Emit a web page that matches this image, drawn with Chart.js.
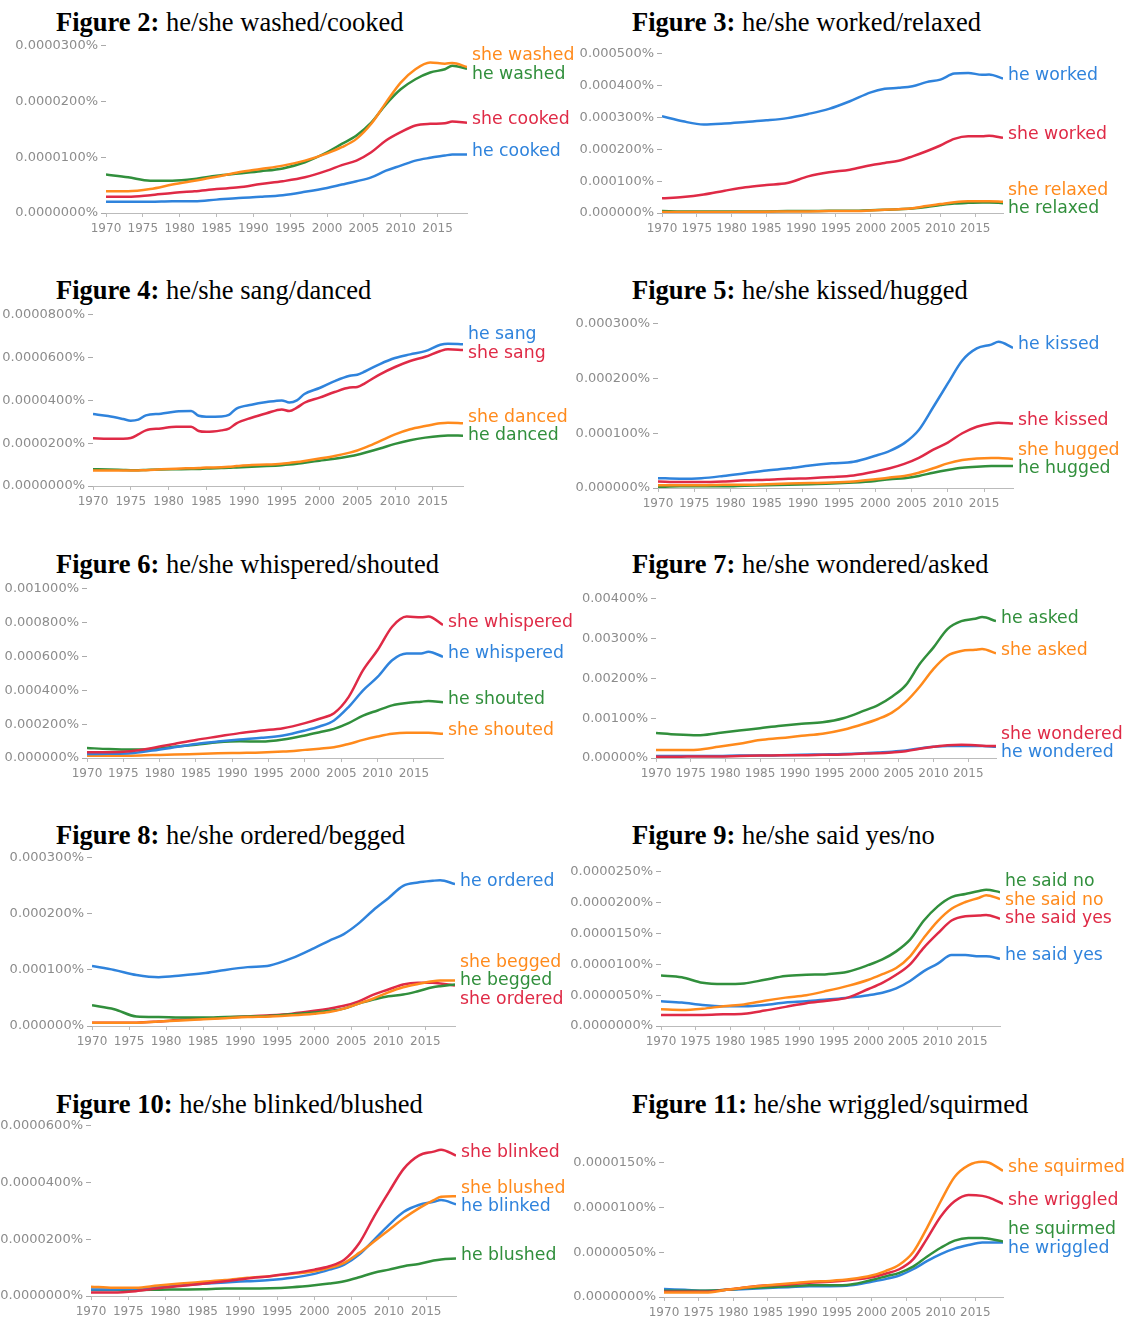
<!DOCTYPE html>
<html>
<head>
<meta charset="utf-8">
<title>he/she verb frequencies, 1970-2019</title>
<script src="https://cdn.jsdelivr.net/npm/chart.js@4.4.1/dist/chart.umd.min.js"></script>
<style>
  html, body { margin: 0; padding: 0; background: #fff; }
  body { width: 1126px; height: 1318px; position: relative; overflow: hidden; }
  .title {
    position: absolute;
    font-family: "Liberation Serif", "Times New Roman", serif;
    font-size: 26.5px;
    line-height: 30px;
    color: #000;
    white-space: nowrap;
  }
  canvas { position: absolute; }
</style>
</head>
<body>
<script>
// ------------------------------------------------------------
// Data. Values are stored in units of
// 10^-decimals percent (decimals is given per panel below).
// ------------------------------------------------------------
const YEARS = [1970, 1973, 1976, 1979, 1982, 1985, 1988, 1991, 1994, 1997,
               2000, 2002, 2004, 2006, 2008, 2010, 2012, 2014, 2016, 2017, 2019];
// fig 4 has a few bumps, so it gets a denser sample
const YEARS_FIG4 = [1970, 1972, 1974, 1975, 1976, 1977, 1979, 1981, 1983, 1984,
                    1985, 1987, 1988, 1989, 1991, 1993, 1995, 1996, 1997, 1998,
                    2000, 2002, 2004, 2005, 2006, 2008, 2010, 2012, 2014, 2016, 2017, 2019];
const X_TICKS = [1970, 1975, 1980, 1985, 1990, 1995, 2000, 2005, 2010, 2015];

// Figure 2 — 1e-7 %
const FIG2_NAMES = ['she washed', 'he washed', 'she cooked', 'he cooked'];
const FIG2_YTICKS = [0, 100, 200, 300];
const FIG2_VALUES = [
  [39, 39, 43, 51, 58, 65, 73, 79, 85, 94, 107, 118, 133, 160, 198, 234, 258, 270, 268, 269, 262],
  [69, 64, 58, 58, 61, 67, 71, 75, 80, 91, 109, 124, 139, 162, 195, 222, 240, 252, 258, 264, 259],
  [29, 29, 32, 36, 39, 43, 46, 52, 57, 64, 76, 86, 94, 109, 130, 145, 157, 160, 161, 164, 162],
  [20, 20, 20, 21, 21, 24, 27, 29, 32, 38, 45, 51, 57, 64, 76, 85, 94, 99, 103, 105, 105],
];

// Figure 3 — 1e-6 %
const FIG3_NAMES = ['he worked', 'she worked', 'she relaxed', 'he relaxed'];
const FIG3_YTICKS = [0, 100, 200, 300, 400, 500];
const FIG3_VALUES = [
  [304, 288, 278, 281, 286, 291, 298, 311, 327, 351, 379, 390, 393, 398, 411, 419, 438, 440, 434, 435, 422],
  [46, 50, 58, 70, 81, 88, 94, 115, 128, 136, 150, 157, 164, 178, 194, 212, 233, 241, 241, 243, 236],
  [3, 3, 3, 3, 4, 4, 5, 5, 6, 6, 8, 10, 12, 15, 22, 28, 34, 37, 37, 37, 35],
  [6, 5, 5, 5, 5, 5, 6, 6, 7, 7, 9, 10, 12, 14, 19, 25, 30, 32, 33, 33, 31],
];

// Figure 4 — 1e-7 % (on YEARS_FIG4)
const FIG4_NAMES = ['he sang', 'she sang', 'she danced', 'he danced'];
const FIG4_YTICKS = [0, 200, 400, 600, 800];
const FIG4_VALUES = [
  [336, 327, 313, 305, 310, 330, 338, 348, 350, 328, 324, 325, 332, 362, 380, 392, 400, 390, 400, 430,
   458, 490, 515, 520, 535, 570, 598, 615, 630, 660, 665, 662],
  [223, 221, 221, 224, 241, 260, 269, 277, 277, 257, 253, 260, 268, 293, 319, 340, 358, 350, 366, 389,
   413, 439, 460, 463, 480, 522, 556, 584, 604, 631, 639, 636],
  [73, 73, 72, 72, 73, 74, 78, 81, 83, 84, 86, 88, 90, 93, 98, 100, 104, 108, 112, 117,
   128, 140, 156, 166, 179, 210, 241, 265, 280, 293, 296, 293],
  [78, 77, 75, 74, 74, 75, 77, 78, 79, 80, 82, 84, 85, 87, 90, 93, 97, 100, 104, 109,
   118, 127, 139, 146, 155, 175, 197, 214, 226, 234, 236, 235],
];

// Figure 5 — 1e-6 %
const FIG5_NAMES = ['he kissed', 'she kissed', 'she hugged', 'he hugged'];
const FIG5_YTICKS = [0, 100, 200, 300];
const FIG5_VALUES = [
  [18, 17, 18, 22, 27, 32, 36, 41, 45, 48, 59, 68, 82, 106, 148, 191, 233, 255, 262, 267, 256],
  [12, 11, 11, 12, 14, 15, 17, 18, 20, 23, 30, 36, 44, 55, 70, 83, 100, 112, 118, 119, 118],
  [5, 5, 5, 6, 6, 7, 8, 9, 10, 12, 16, 19, 22, 28, 36, 45, 51, 54, 55, 55, 53],
  [2, 3, 3, 3, 4, 5, 6, 7, 8, 10, 13, 16, 18, 22, 28, 33, 37, 39, 40, 40, 40],
];

// Figure 6 — 1e-6 %
const FIG6_NAMES = ['she whispered', 'he whispered', 'he shouted', 'she shouted'];
const FIG6_YTICKS = [0, 200, 400, 600, 800, 1000];
const FIG6_VALUES = [
  [34, 34, 40, 59, 83, 107, 127, 147, 162, 176, 206, 232, 265, 360, 519, 638, 776, 836, 832, 836, 786],
  [24, 25, 28, 44, 63, 83, 97, 109, 119, 133, 162, 186, 222, 301, 400, 479, 578, 618, 618, 628, 598],
  [59, 53, 50, 53, 67, 79, 93, 99, 97, 109, 133, 152, 172, 206, 251, 281, 311, 325, 333, 337, 329],
  [14, 14, 14, 17, 20, 24, 28, 30, 32, 38, 48, 55, 63, 83, 107, 127, 143, 149, 149, 149, 143],
];

// Figure 7 — 1e-5 %
const FIG7_NAMES = ['he asked', 'she asked', 'she wondered', 'he wondered'];
const FIG7_YTICKS = [0, 100, 200, 300, 400];
const FIG7_VALUES = [
  [63, 59, 57, 63, 69, 75, 81, 86, 90, 100, 119, 133, 154, 183, 236, 278, 324, 344, 350, 354, 344],
  [20, 20, 21, 28, 36, 45, 50, 56, 61, 71, 86, 98, 114, 141, 179, 224, 257, 269, 272, 274, 263],
  [3, 3, 4, 4, 5, 6, 7, 7, 8, 9, 11, 12, 14, 17, 23, 28, 32, 33, 32, 31, 30],
  [5, 5, 5, 5, 6, 6, 7, 8, 9, 10, 12, 14, 16, 19, 24, 28, 30, 30, 30, 30, 28],
];

// Figure 8 — 1e-6 %
const FIG8_NAMES = ['he ordered', 'she begged', 'he begged', 'she ordered'];
const FIG8_YTICKS = [0, 100, 200, 300];
const FIG8_VALUES = [
  [107, 100, 91, 87, 90, 94, 100, 105, 108, 121, 139, 152, 164, 183, 207, 228, 250, 256, 259, 260, 253],
  [6, 6, 6, 8, 10, 12, 14, 16, 17, 19, 22, 25, 31, 40, 49, 60, 69, 75, 80, 81, 81],
  [37, 30, 17, 16, 15, 15, 16, 17, 18, 21, 24, 27, 31, 40, 47, 53, 56, 62, 69, 71, 74],
  [6, 6, 6, 8, 11, 13, 15, 17, 19, 22, 27, 31, 36, 44, 56, 65, 74, 77, 77, 76, 72],
];

// Figure 9 — 1e-7 %
const FIG9_NAMES = ['he said no', 'she said no', 'she said yes', 'he said yes'];
const FIG9_YTICKS = [0, 50, 100, 150, 200, 250];
const FIG9_VALUES = [
  [82, 79, 70, 68, 69, 75, 81, 83, 84, 88, 99, 108, 121, 140, 171, 194, 209, 214, 219, 221, 217],
  [27, 26, 28, 32, 35, 41, 46, 50, 57, 65, 75, 84, 94, 113, 143, 170, 190, 201, 208, 212, 206],
  [18, 18, 18, 19, 20, 25, 31, 37, 41, 46, 60, 70, 83, 100, 127, 150, 171, 178, 179, 180, 174],
  [40, 38, 34, 32, 32, 34, 38, 40, 43, 46, 50, 54, 61, 73, 89, 101, 115, 115, 113, 113, 109],
];

// Figure 10 — 1e-7 %
const FIG10_NAMES = ['she blinked', 'she blushed', 'he blinked', 'he blushed'];
const FIG10_YTICKS = [0, 200, 400, 600];
const FIG10_VALUES = [
  [12, 12, 17, 27, 35, 43, 52, 62, 70, 80, 93, 105, 128, 186, 280, 367, 449, 495, 509, 516, 495],
  [33, 29, 29, 37, 44, 50, 56, 64, 70, 78, 87, 99, 117, 152, 192, 233, 274, 309, 338, 350, 352],
  [23, 23, 26, 31, 37, 43, 48, 52, 56, 64, 78, 93, 111, 146, 198, 251, 297, 321, 332, 338, 323],
  [21, 21, 21, 22, 23, 24, 26, 26, 27, 31, 38, 44, 52, 66, 82, 93, 105, 113, 125, 129, 132],
];

// Figure 11 — 1e-7 %
const FIG11_NAMES = ['she squirmed', 'she wriggled', 'he squirmed', 'he wriggled'];
const FIG11_YTICKS = [0, 50, 100, 150];
const FIG11_VALUES = [
  [5, 5, 5, 8, 11, 13, 15, 17, 18, 20, 24, 29, 36, 50, 77, 107, 134, 147, 151, 150, 141],
  [6, 6, 6, 8, 11, 13, 14, 16, 17, 19, 22, 26, 31, 42, 65, 90, 107, 114, 113, 111, 104],
  [7, 7, 7, 8, 10, 11, 12, 13, 13, 14, 19, 23, 27, 34, 45, 55, 63, 66, 66, 65, 62],
  [9, 8, 7, 8, 9, 10, 11, 12, 12, 13, 17, 20, 24, 31, 40, 48, 54, 58, 61, 61, 61],
];

// ------------------------------------------------------------
// Styling / layout
// ------------------------------------------------------------
const COLORS = {
  blue:   '#2f83dc',
  red:    '#df2a46',
  orange: '#ff8a1c',
  green:  '#318f3c',
};

const X_TICK_FONT = { family: 'DejaVu Sans', size: 12 };
const Y_TICK_FONT = { family: 'DejaVu Sans', size: 13 };
const TICK_COLOR  = '#8c8c8c';
const LABEL_FONT  = '17.3px "DejaVu Sans"';
const LABEL_GAP   = 18.5;   // min vertical spacing between end labels

const AXIS_W = 110, AXIS_H = 26, PAD_TOP = 10, PAD_RIGHT = 140;

// area = pixel box of the plot (1970..2019 horizontally, 0..yMax vertically)
const PANELS = [
  { fig: 2,  title: 'he/she washed/cooked',      names: FIG2_NAMES,  values: FIG2_VALUES,  years: YEARS,
    colors: ['orange', 'green', 'red', 'blue'],  yTicks: FIG2_YTICKS,  decimals: 7, yMax: 300,
    area: { left: 106, right: 467,  top: 45,   bottom: 213 },  titleAt: [56, 22] },
  { fig: 3,  title: 'he/she worked/relaxed',     names: FIG3_NAMES,  values: FIG3_VALUES,  years: YEARS,
    colors: ['blue', 'red', 'orange', 'green'],  yTicks: FIG3_YTICKS,  decimals: 6, yMax: 500,
    area: { left: 662, right: 1003, top: 53,   bottom: 213 },  titleAt: [632, 22] },
  { fig: 4,  title: 'he/she sang/danced',        names: FIG4_NAMES,  values: FIG4_VALUES,  years: YEARS_FIG4,
    colors: ['blue', 'red', 'orange', 'green'],  yTicks: FIG4_YTICKS,  decimals: 7, yMax: 800,
    area: { left: 93,  right: 463,  top: 314,  bottom: 486 },  titleAt: [56, 290] },
  { fig: 5,  title: 'he/she kissed/hugged',      names: FIG5_NAMES,  values: FIG5_VALUES,  years: YEARS,
    colors: ['blue', 'red', 'orange', 'green'],  yTicks: FIG5_YTICKS,  decimals: 6, yMax: 300,
    area: { left: 658, right: 1013, top: 323,  bottom: 488 },  titleAt: [632, 290] },
  { fig: 6,  title: 'he/she whispered/shouted',  names: FIG6_NAMES,  values: FIG6_VALUES,  years: YEARS,
    colors: ['red', 'blue', 'green', 'orange'],  yTicks: FIG6_YTICKS,  decimals: 6, yMax: 1000,
    area: { left: 87,  right: 443,  top: 588,  bottom: 758 },  titleAt: [56, 564] },
  { fig: 7,  title: 'he/she wondered/asked',     names: FIG7_NAMES,  values: FIG7_VALUES,  years: YEARS,
    colors: ['green', 'orange', 'red', 'blue'],  yTicks: FIG7_YTICKS,  decimals: 5, yMax: 400,
    area: { left: 656, right: 996,  top: 598,  bottom: 758 },  titleAt: [632, 564] },
  { fig: 8,  title: 'he/she ordered/begged',     names: FIG8_NAMES,  values: FIG8_VALUES,  years: YEARS,
    colors: ['blue', 'orange', 'green', 'red'],  yTicks: FIG8_YTICKS,  decimals: 6, yMax: 300,
    area: { left: 92,  right: 455,  top: 857,  bottom: 1026 }, titleAt: [56, 835] },
  { fig: 9,  title: 'he/she said yes/no',        names: FIG9_NAMES,  values: FIG9_VALUES,  years: YEARS,
    colors: ['green', 'orange', 'red', 'blue'],  yTicks: FIG9_YTICKS,  decimals: 7, yMax: 250,
    area: { left: 661, right: 1000, top: 871,  bottom: 1026 }, titleAt: [632, 835] },
  { fig: 10, title: 'he/she blinked/blushed',    names: FIG10_NAMES, values: FIG10_VALUES, years: YEARS,
    colors: ['red', 'orange', 'blue', 'green'],  yTicks: FIG10_YTICKS, decimals: 7, yMax: 600,
    area: { left: 91,  right: 456,  top: 1125, bottom: 1296 }, titleAt: [56, 1104] },
  { fig: 11, title: 'he/she wriggled/squirmed',  names: FIG11_NAMES, values: FIG11_VALUES, years: YEARS,
    colors: ['orange', 'red', 'green', 'blue'],  yTicks: FIG11_YTICKS, decimals: 7, yMax: 160,
    area: { left: 664, right: 1003, top: 1153, bottom: 1297 }, titleAt: [632, 1104] },
];

// push overlapping end labels apart, keeping each cluster centred on its lines
function spreadLabels(items, gap) {
  items.sort((a, b) => a.y - b.y);
  let groups = items.map(it => ({ items: [it], top: it.y }));
  let merged = true;
  while (merged) {
    merged = false;
    for (let i = 1; i < groups.length; i++) {
      const a = groups[i - 1], b = groups[i];
      if (a.top + a.items.length * gap > b.top) {
        const all = a.items.concat(b.items);
        const mean = all.reduce((s, it) => s + it.y, 0) / all.length;
        groups.splice(i - 1, 2, { items: all, top: mean - (all.length - 1) * gap / 2 });
        merged = true;
        break;
      }
    }
  }
  groups.forEach(g => g.items.forEach((it, k) => { it.ly = g.top + k * gap; }));
}

// series names written at the right end of each line, like the Ngram viewer
const endLabels = {
  id: 'endLabels',
  afterDatasetsDraw(chart) {
    const { ctx, chartArea, scales } = chart;
    const items = chart.data.datasets.map(ds => {
      const last = ds.data[ds.data.length - 1];
      return { text: ds.label, color: ds.borderColor, y: scales.y.getPixelForValue(last.y) - 3 };
    });
    spreadLabels(items, LABEL_GAP);
    ctx.save();
    ctx.font = LABEL_FONT;
    ctx.textBaseline = 'middle';
    ctx.textAlign = 'left';
    items.forEach(it => {
      ctx.fillStyle = it.color;
      ctx.fillText(it.text, chartArea.right + 5, it.ly);
    });
    ctx.restore();
  }
};

PANELS.forEach(p => {
  // title
  const t = document.createElement('div');
  t.className = 'title';
  t.innerHTML = '<b>Figure ' + p.fig + ':</b> ' + p.title;
  t.style.left = p.titleAt[0] + 'px';
  t.style.top = (p.titleAt[1] - 15) + 'px';
  document.body.appendChild(t);

  // canvas sized so the chart area lands on p.area
  const a = p.area;
  const left = a.left - AXIS_W;
  const top = a.top - PAD_TOP;
  const w = a.right - left + PAD_RIGHT;
  const h = a.bottom - top + AXIS_H;
  const cv = document.createElement('canvas');
  cv.width = w;
  cv.height = h;
  cv.style.left = left + 'px';
  cv.style.top = top + 'px';
  cv.style.width = w + 'px';
  cv.style.height = h + 'px';
  document.body.appendChild(cv);

  const scale = Math.pow(10, p.decimals);

  new Chart(cv, {
    type: 'line',
    data: {
      datasets: p.names.map((name, i) => ({
        label: name,
        data: p.years.map((yr, k) => ({ x: yr, y: p.values[i][k] })),
        borderColor: COLORS[p.colors[i]],
        backgroundColor: COLORS[p.colors[i]],
        borderWidth: 2.5,
        pointRadius: 0,
        cubicInterpolationMode: 'monotone',
        fill: false,
      }))
    },
    options: {
      responsive: false,
      animation: false,
      devicePixelRatio: 1,
      layout: { padding: { top: PAD_TOP, right: PAD_RIGHT, left: 0, bottom: 0 } },
      plugins: {
        legend: { display: false },
        tooltip: { enabled: false },
      },
      scales: {
        x: {
          type: 'linear',
          min: 1970,
          max: 2019,
          afterBuildTicks: s => { s.ticks = X_TICKS.map(v => ({ value: v })); },
          afterFit: s => { s.height = AXIS_H; },
          ticks: {
            callback: v => String(v),
            font: X_TICK_FONT,
            color: TICK_COLOR,
            padding: 5,
            maxRotation: 0,
            autoSkip: false,
          },
          grid: { drawOnChartArea: false, tickLength: 4, color: '#bbbbbb' },
          border: { display: true, color: '#bbbbbb', width: 1 },
        },
        y: {
          type: 'linear',
          min: 0,
          max: p.yMax,
          afterBuildTicks: s => { s.ticks = p.yTicks.map(v => ({ value: v })); },
          afterFit: s => { s.width = AXIS_W; },
          ticks: {
            callback: v => (v / scale).toFixed(p.decimals) + '%',
            font: Y_TICK_FONT,
            color: TICK_COLOR,
            padding: 3,
          },
          grid: { drawOnChartArea: false, tickLength: 5, color: '#aaaaaa' },
          border: { display: false },
        }
      }
    },
    plugins: [endLabels]
  });
});
</script>
</body>
</html>
